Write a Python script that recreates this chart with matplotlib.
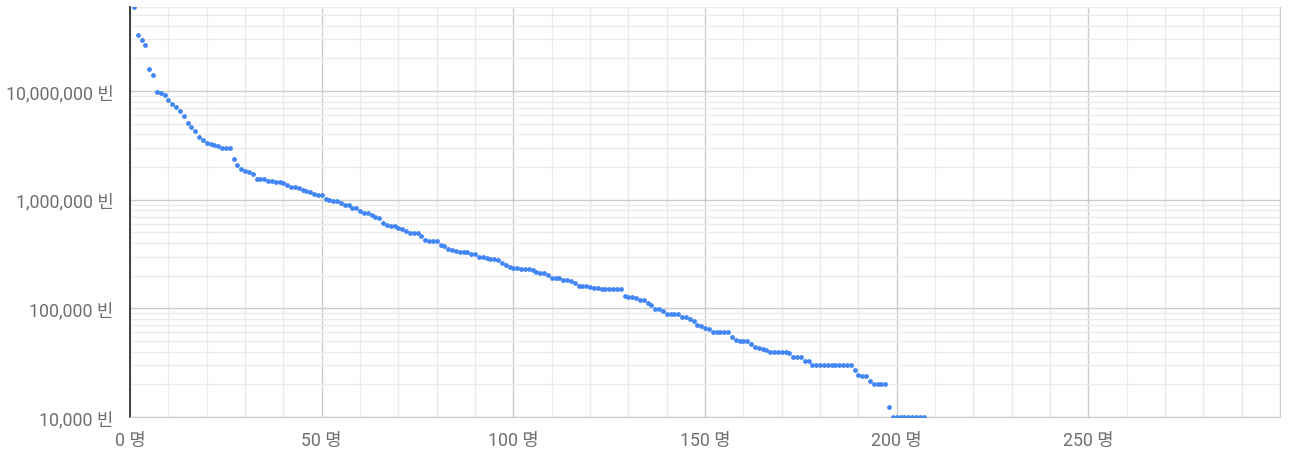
import matplotlib
matplotlib.use("Agg")
import matplotlib.pyplot as plt
from matplotlib.ticker import FuncFormatter, FixedLocator, MultipleLocator, LogLocator, NullFormatter
import numpy as np

# rank (명) and amount (빈)
ranks = list(range(1, 208))
amounts = [
    5.9e7, 3.27e7, 2.98e7, 2.63e7, 1.59e7, 1.40e7, 9.9e6, 9.6e6, 9.1e6, 8.3e6,
    7.6e6, 7.2e6, 6.5e6, 5.9e6, 5.1e6, 4.7e6, 4.3e6, 3.77e6, 3.53e6, 3.32e6,
    3.27e6, 3.2e6, 3.09e6, 3.0e6, 3.0e6, 3.0e6, 2.36e6, 2.07e6, 1.92e6, 1.82e6,
    1.79e6, 1.73e6, 1.55e6, 1.55e6, 1.55e6, 1.48e6, 1.48e6, 1.46e6, 1.44e6, 1.43e6,
    1.37e6, 1.31e6, 1.30e6, 1.27e6, 1.24e6, 1.19e6, 1.18e6, 1.12e6, 1.11e6, 1.11e6,
    1.007e6, 1.0e6, 9.8e5, 9.7e5, 9.35e5, 8.97e5, 8.87e5, 8.43e5, 8.43e5, 7.85e5,
    7.57e5, 7.48e5, 7.21e5, 6.96e5, 6.77e5, 6.13e5, 5.84e5, 5.68e5, 5.68e5, 5.51e5,
    5.37e5, 5.14e5, 4.96e5, 4.9e5, 4.9e5, 4.63e5, 4.25e5, 4.16e5, 4.16e5, 4.16e5,
    3.82e5, 3.74e5, 3.53e5, 3.44e5, 3.34e5, 3.32e5, 3.30e5, 3.27e5, 3.16e5, 3.16e5,
    2.98e5, 2.97e5, 2.9e5, 2.86e5, 2.84e5, 2.8e5, 2.63e5, 2.49e5, 2.38e5, 2.33e5,
    2.33e5, 2.31e5, 2.30e5, 2.28e5, 2.25e5, 2.16e5, 2.11e5, 2.10e5, 2.02e5, 1.90e5,
    1.90e5, 1.89e5, 1.83e5, 1.82e5, 1.78e5, 1.72e5, 1.62e5, 1.60e5, 1.59e5, 1.57e5,
    1.54e5, 1.53e5, 1.51e5, 1.50e5, 1.50e5, 1.50e5, 1.50e5, 1.50e5, 1.30e5, 1.28e5,
    1.28e5, 1.24e5, 1.20e5, 1.19e5, 1.11e5, 1.08e5, 9.9e4, 9.86e4, 9.4e4, 8.9e4,
    8.9e4, 8.9e4, 8.9e4, 8.4e4, 8.3e4, 7.97e4, 7.6e4, 6.98e4, 6.92e4, 6.64e4,
    6.41e4, 6.0e4, 6.0e4, 6.0e4, 6.0e4, 6.0e4, 5.45e4, 5.08e4, 5.0e4, 5.0e4,
    5.0e4, 4.67e4, 4.38e4, 4.34e4, 4.22e4, 4.16e4, 4.0e4, 4.0e4, 4.0e4, 4.0e4,
    4.0e4, 3.85e4, 3.56e4, 3.56e4, 3.56e4, 3.27e4, 3.27e4, 3.0e4, 3.0e4, 3.0e4,
    3.0e4, 3.0e4, 3.0e4, 3.0e4, 3.0e4, 3.0e4, 3.0e4, 3.0e4, 2.72e4, 2.45e4,
    2.4e4, 2.37e4, 2.16e4, 2.0e4, 2.0e4, 2.0e4, 2.0e4, 1.23e4, 1.0e4, 1.0e4,
    1.0e4, 1.0e4, 1.0e4, 1.0e4, 1.0e4, 1.0e4, 1.0e4,
]
x_ticks = [0, 50, 100, 150, 200, 250]

FONT = ['Roboto', 'Noto Sans CJK KR', 'DejaVu Sans']
plt.rcParams['font.family'] = FONT

W, H = 1289, 452
fig = plt.figure(figsize=(W / 100, H / 100), dpi=100)
ax = fig.add_axes([130 / W, 1 - 418 / H, (1280 - 130) / W, (418 - 7.5) / H])

ax.scatter(ranks, amounts, s=12, color='#4285F4', linewidths=0, zorder=3, clip_on=True)

ax.set_yscale('log')
ax.set_xlim(0, 300)
ax.set_ylim(1e4, 6e7)

ax.xaxis.set_major_locator(FixedLocator(x_ticks + [300]))
ax.xaxis.set_minor_locator(MultipleLocator(10))
ax.yaxis.set_major_locator(LogLocator(base=10, numticks=20))
ax.yaxis.set_minor_locator(LogLocator(base=10, subs=np.arange(2, 10), numticks=20))
ax.yaxis.set_minor_formatter(NullFormatter())

def xfmt(v, pos):
    if v > 250:
        return ''
    return f"{int(round(v))} 명"

def yfmt(v, pos):
    return f"{int(round(v)):,} 빈"

ax.xaxis.set_major_formatter(FuncFormatter(xfmt))
ax.yaxis.set_major_formatter(FuncFormatter(yfmt))

ax.grid(which='major', color='#cccccc', linewidth=1.0, zorder=0)
ax.grid(which='minor', color='#ebebeb', linewidth=1.0, zorder=0)
ax.set_axisbelow(True)

ax.tick_params(which='both', length=0)
ax.tick_params(axis='y', pad=12, labelsize=12.8, labelcolor='#6f6f6f')
ax.tick_params(axis='x', pad=10, labelsize=12.8, labelcolor='#6f6f6f')

for lab in ax.get_xticklabels() + ax.get_yticklabels():
    lab.set_family(FONT)

ax.spines['top'].set_visible(False)
ax.spines['right'].set_color('#cccccc')
ax.spines['bottom'].set_color('#cccccc')
ax.spines['left'].set_color('#333333')
ax.spines['left'].set_linewidth(1.3)

fig.savefig('out.png', dpi=100)
